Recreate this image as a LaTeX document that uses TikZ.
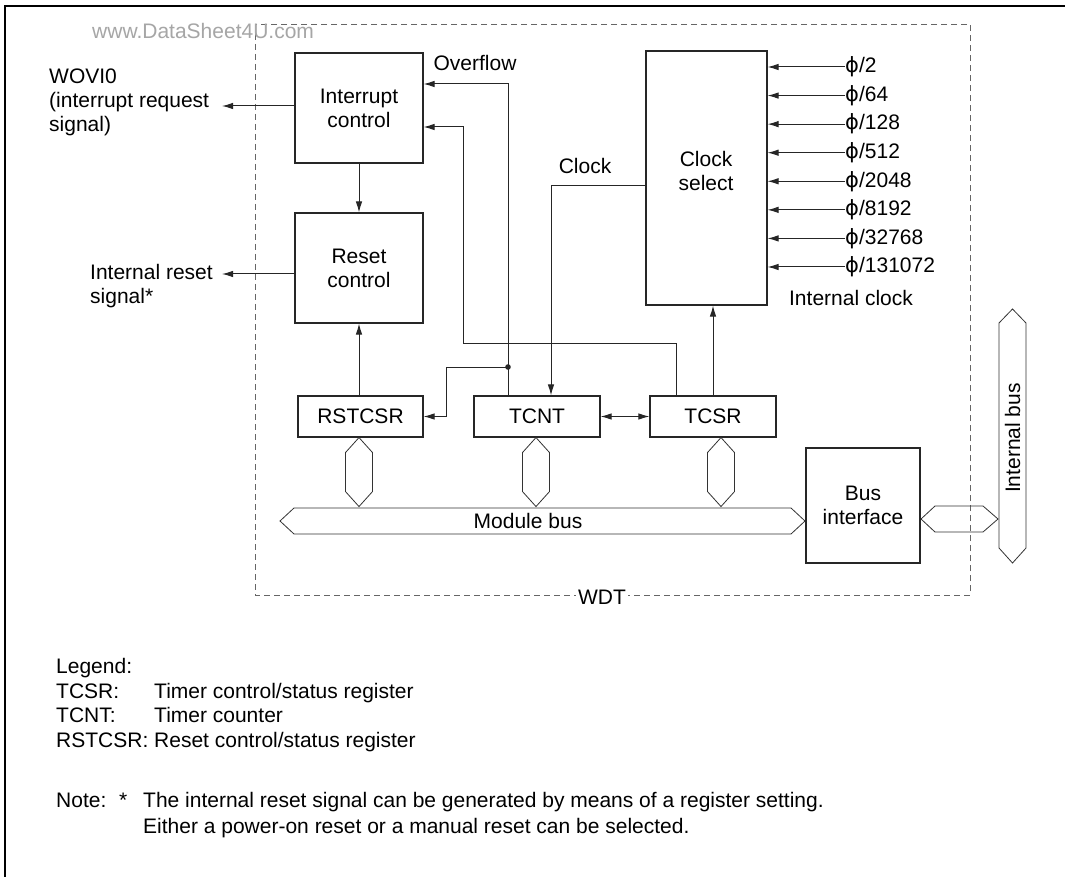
\documentclass[tikz,border=0pt]{standalone}
\usepackage{fontspec}
\setmainfont{Liberation Sans}
\newfontfamily\phifont{DejaVu Sans}
\usetikzlibrary{arrows.meta,calc}
\begin{document}
\begin{tikzpicture}[x=1pt,y=-1pt,
  font=\fontsize{21}{24}\selectfont,
  blk/.style={draw=black!85,line width=1.1pt,align=center,inner sep=0pt},
  wire/.style={draw=black!85,line width=1pt},
  arr/.style={wire,-{Latex[length=11pt,width=6.5pt]}},
  darr/.style={wire,{Latex[length=11pt,width=6.5pt]}-{Latex[length=11pt,width=6.5pt]}},
  hexl/.style={draw=black!80,line width=0.8pt},
  lbl/.style={inner sep=0pt},
  leg/.style={inner sep=0pt,anchor=base west}]
\useasboundingbox (0,0) rectangle (1065,877);
\fill[white] (0,0) rectangle (1065,877);
% frame
\draw[line width=2.5pt] (5,877) -- (5,6) -- (1065,6);
% WDT dashed box
\draw[draw=black!60,line width=0.9pt,dash pattern=on 6pt off 4pt] (255,24) rectangle (970,595);
\node[fill=white,inner sep=2pt] (wdt) at (602,597) {WDT};
\node[lbl,text=black!35,anchor=west] (wm) at (92,31) {www.DataSheet4U.com};
% blocks
\node[blk,minimum width=128pt,minimum height=110pt] (intc) at (359,108) {Interrupt\\control};
\node[blk,minimum width=128pt,minimum height=110pt] (rstc) at (359,268) {Reset\\control};
\node[blk,minimum width=121pt,minimum height=254pt] (clk) at (706.5,178) {};
\node[lbl,align=center] (clktxt) at (706,171) {Clock\\select};
\node[blk,minimum width=125pt,minimum height=41pt] (rstcsr) at (360.5,416.5) {RSTCSR};
\node[blk,minimum width=126pt,minimum height=41pt] (tcnt) at (537,416.5) {TCNT};
\node[blk,minimum width=126pt,minimum height=41pt] (tcsr) at (713,416.5) {TCSR};
\node[blk,minimum width=114pt,minimum height=115pt] (busif) at (863,505.5) {Bus\\interface};
% external signals
\node[lbl,anchor=north west,align=left] (wovi) at (49,69) {WOVI0\\(interrupt request\\signal)};
\coordinate (woviend) at (222,106);
\draw[arr] (intc.west |- woviend) -- (woviend);
\node[lbl,anchor=north west,align=left] (irst) at (90,264) {Internal reset\\signal*};
\coordinate (irstend) at (222,274);
\draw[arr] (rstc.west |- irstend) -- (irstend);
% internal connections
\draw[arr] (intc.south) -- (rstc.north);
\draw[arr] (rstcsr.north -| rstc.south) -- (rstc.south);
% overflow
\coordinate (ovf) at (508,84);
\draw[arr] (tcnt.north -| ovf) -- (ovf) -- (ovf -| intc.east);
\node[lbl] (ovflbl) at (475,63) {Overflow};
\coordinate (dot) at (508,367);
\fill[black!85] (dot) circle (2.8);
\coordinate (rb) at (446,367);
\draw[arr] (dot) -- (rb) -- (rb |- rstcsr.east) -- (rstcsr.east);
% TCSR to interrupt control
\coordinate (t1) at (676,343);
\coordinate (t2) at (463,127);
\draw[arr] (tcsr.north -| t1) -- (t1) -| (t2) -- (t2 -| intc.east);
% clock
\coordinate (ck) at (551,186);
\draw[arr] (ck -| clk.west) -- (ck) -- (ck |- tcnt.north);
\node[lbl] (cklbl) at (585,166) {Clock};
\draw[arr] (tcsr.north) -- (tcsr.north |- clk.south);
\draw[darr] (tcnt.east) -- (tcsr.west);
% clock inputs
\foreach \i/\t in {0/2,1/64,2/128,3/512,4/2048,5/8192,6/32768,7/131072}{
  \coordinate (ci\i) at (845,{67+28.57*\i});
  \draw[arr] (ci\i) -- (ci\i -| clk.east);
  \node[lbl,anchor=west] (cl\i) at (ci\i) {{\phifont ϕ}/\t};
}
\node[lbl] (intclk) at (851,298) {Internal clock};
% register bus stubs
\path (rstcsr.south) ++(-1.5,0) coordinate (h1);
\path (tcnt.south) ++(-1,0) coordinate (h2);
\path (tcsr.south) ++(8,0) coordinate (h3);
\foreach \h in {h1,h2,h3}{
  \draw[hexl] (\h) -- ++(13.5,15) -- ++(0,39) -- ++(-13.5,15) -- ++(-13.5,-15) -- ++(0,-39) -- cycle;
}
% module bus
\coordinate (mbL) at (280,521);
\coordinate (mbR) at (805,521);
\draw[hexl] (mbL) -- ++(14,-13) -- ($(mbR)+(-14,-13)$) -- (mbR) -- ++(-14,13) -- ($(mbL)+(14,13)$) -- cycle;
\node[lbl] (mbus) at (528,521) {Module bus};
% bus interface to internal bus
\coordinate (ibL) at (921,519);
\coordinate (ibR) at (998,519);
\draw[hexl] (ibL) -- ++(14,-13) -- ($(ibR)+(-15,-13)$) -- (ibR) -- ++(-15,13) -- ($(ibL)+(14,13)$) -- cycle;
% internal bus
\coordinate (itT) at (1012.5,309);
\coordinate (itB) at (1012.5,563);
\draw[hexl] (itT) -- ++(13.5,14) -- ($(itB)+(13.5,-15)$) -- (itB) -- ++(-13.5,-15) -- ($(itT)+(-13.5,14)$) -- cycle;
\node[lbl,rotate=90] (ibus) at (1012.5,438) {Internal bus};
% legend
\node[leg] (lg0) at (56,673.5) {Legend:};
\node[leg] (lg1) at (56,698) {TCSR:};
\node[leg] (lg1d) at (154,698) {Timer control/status register};
\node[leg] (lg2) at (56,722.5) {TCNT:};
\node[leg] (lg2d) at (154,722.5) {Timer counter};
\node[leg] (lg3) at (56,747) {RSTCSR:};
\node[leg] (lg3d) at (154,747) {Reset control/status register};
\node[leg] (nt) at (56,807.5) {Note:};
\node[leg] (nts) at (119,807.5) {*};
\node[leg] (nt1) at (143,807.5) {The internal reset signal can be generated by means of a register setting.};
\node[leg] (nt2) at (143,833) {Either a power-on reset or a manual reset can be selected.};
\end{tikzpicture}
\end{document}
